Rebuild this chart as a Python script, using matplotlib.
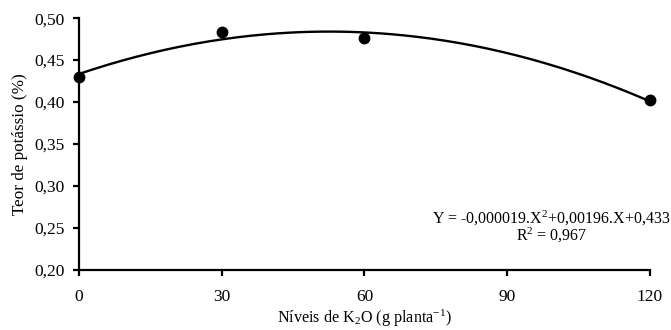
import numpy as np
import matplotlib.pyplot as plt

plt.rcParams['font.family'] = ['Liberation Serif', 'DejaVu Serif']
plt.rcParams['mathtext.fontset'] = 'custom'
plt.rcParams['mathtext.rm'] = 'Liberation Serif'
plt.rcParams['mathtext.it'] = 'Liberation Serif:italic'

# data
doses = [0, 30, 60, 120]
teor_k = [0.430, 0.484, 0.476, 0.402]
xticks = [0, 30, 60, 90, 120]
yticks = [0.20, 0.25, 0.30, 0.35, 0.40, 0.45, 0.50]

fig = plt.figure(figsize=(6.71, 3.30), dpi=100)
ax = fig.add_axes([0.1177, 0.182, 0.851, 0.763])

# quadratic fit through the points
coef = np.polyfit(doses, teor_k, 2)
xs = np.linspace(0, 120, 200)
ax.plot(xs, np.polyval(coef, xs), color='black', lw=1.7, clip_on=False)
ax.plot(doses, teor_k, 'o', color='black', ms=7.5, clip_on=False)

ax.set_xlim(0, 120)
ax.set_ylim(0.20, 0.50)
ax.set_xticks(xticks)
ax.set_yticks(yticks)
ax.set_xticklabels([str(v) for v in xticks])
ax.set_yticklabels([f'{v:.2f}'.replace('.', ',') for v in yticks])
for s in ['top', 'right']:
    ax.spines[s].set_visible(False)
for s in ['left', 'bottom']:
    ax.spines[s].set_linewidth(1.6)
ax.tick_params(direction='out', length=4, width=1.6, labelsize=12.5, pad=6)
ax.tick_params(axis='x', pad=10)

ax.set_ylabel('Teor de potássio (%)', fontsize=12.3, labelpad=5)
ax.set_xlabel(r'Níveis de K$_2$O (g planta$^{-1}$)', fontsize=11.6, labelpad=1.5)

ax.text(0.827, 0.205, r'Y = -0,000019.X$^2$+0,00196.X+0,433', transform=ax.transAxes,
        ha='center', va='center', fontsize=11.5)
ax.text(0.827, 0.135, r'R$^2$ = 0,967', transform=ax.transAxes,
        ha='center', va='center', fontsize=11.5)

fig.savefig('out.png', dpi=100)
